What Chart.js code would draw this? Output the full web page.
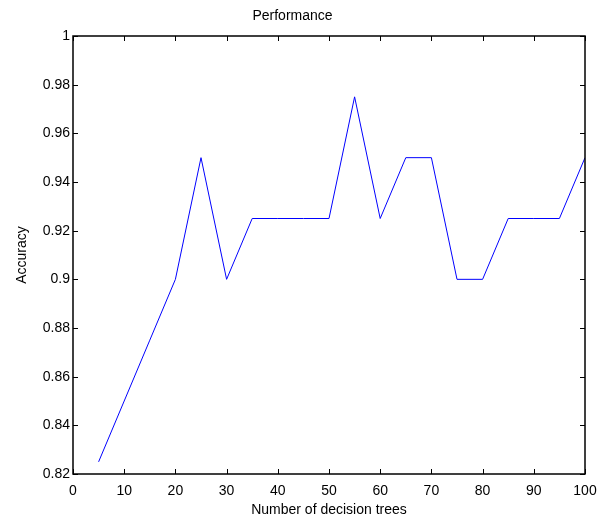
<!DOCTYPE html>
<html>
<head>
<meta charset="utf-8">
<script src="https://cdn.jsdelivr.net/npm/chart.js@4"></script>
<style>
  html, body { margin: 0; padding: 0; background: #fff; }
  #wrap { width: 613px; height: 523px; }
</style>
</head>
<body>
<div id="wrap"><canvas id="chart" width="613" height="523"></canvas></div>
<script>
// number of trees vs accuracy
const trees = [5, 10, 15, 20, 25, 30, 35, 40, 45, 50, 55, 60, 65, 70, 75, 80, 85, 90, 95, 100];
const accuracy = [0.825, 0.85, 0.875, 0.9, 0.95, 0.9, 0.925, 0.925, 0.925, 0.925, 0.975, 0.925, 0.95, 0.95, 0.9, 0.9, 0.925, 0.925, 0.925, 0.95];
const xTicks = [0, 10, 20, 30, 40, 50, 60, 70, 80, 90, 100];
const yTicks = ['0.82', '0.84', '0.86', '0.88', '0.9', '0.92', '0.94', '0.96', '0.98', '1'];

const FONT = 'Liberation Sans, Arial, Helvetica, sans-serif';

// box round the plot + inward ticks on all four sides, MATLAB style
const matlabBox = {
  id: 'matlabBox',
  afterDraw(chart) {
    const { ctx, chartArea: a, scales: { x, y } } = chart;
    const len = 5;
    ctx.save();
    ctx.strokeStyle = '#000';
    ctx.lineWidth = 1;
    ctx.beginPath();
    x.ticks.forEach(t => {
      const px = Math.round(x.getPixelForValue(t.value)) + 0.5;
      ctx.moveTo(px, a.bottom); ctx.lineTo(px, a.bottom - len);
      ctx.moveTo(px, a.top); ctx.lineTo(px, a.top + len);
    });
    y.ticks.forEach(t => {
      const py = Math.round(y.getPixelForValue(t.value)) + 0.5;
      ctx.moveTo(a.left, py); ctx.lineTo(a.left + len, py);
      ctx.moveTo(a.right, py); ctx.lineTo(a.right - len, py);
    });
    ctx.stroke();
    ctx.lineWidth = 1.5;
    ctx.strokeRect(a.left, a.top, a.right - a.left, a.bottom - a.top);
    ctx.restore();
  }
};

new Chart(document.getElementById('chart').getContext('2d'), {
  type: 'line',
  data: {
    datasets: [{
      data: trees.map((t, i) => ({ x: t, y: accuracy[i] })),
      borderColor: '#0000ff',
      borderWidth: 1,
      pointRadius: 0,
      tension: 0,
      fill: false
    }]
  },
  options: {
    responsive: false,
    animation: false,
    layout: { padding: { left: 0, right: 28, top: 0, bottom: 0 } },
    plugins: {
      legend: { display: false },
      tooltip: { enabled: false },
      title: {
        display: true,
        text: 'Performance',
        color: '#000',
        font: { family: FONT, size: 14, weight: 'normal' },
        padding: { top: 8, bottom: 11.2 }
      }
    },
    scales: {
      x: {
        type: 'linear',
        min: 0,
        max: 100,
        afterBuildTicks: s => { s.ticks = xTicks.map(v => ({ value: v })); },
        afterFit: s => { s.height = 49; },
        grid: { display: false, drawTicks: false },
        border: { display: false },
        ticks: { color: '#000', padding: 9, maxRotation: 0, font: { family: FONT, size: 14 } },
        title: {
          display: true,
          text: 'Number of decision trees',
          color: '#000',
          font: { family: FONT, size: 14 },
          padding: { top: 0, bottom: 4 }
        }
      },
      y: {
        type: 'linear',
        min: 0.82,
        max: 1,
        afterBuildTicks: s => { s.ticks = yTicks.map(v => ({ value: Number(v) })); },
        afterFit: s => { s.width = 73; },
        grid: { display: false, drawTicks: false },
        border: { display: false },
        ticks: {
          color: '#000',
          padding: 3,
          font: { family: FONT, size: 14 },
          callback: v => yTicks.find(t => Math.abs(Number(t) - v) < 1e-9)
        },
        title: {
          display: true,
          text: 'Accuracy',
          color: '#000',
          font: { family: FONT, size: 14 },
          padding: { top: 14, bottom: 0 }
        }
      }
    }
  },
  plugins: [matlabBox]
});
</script>
</body>
</html>
